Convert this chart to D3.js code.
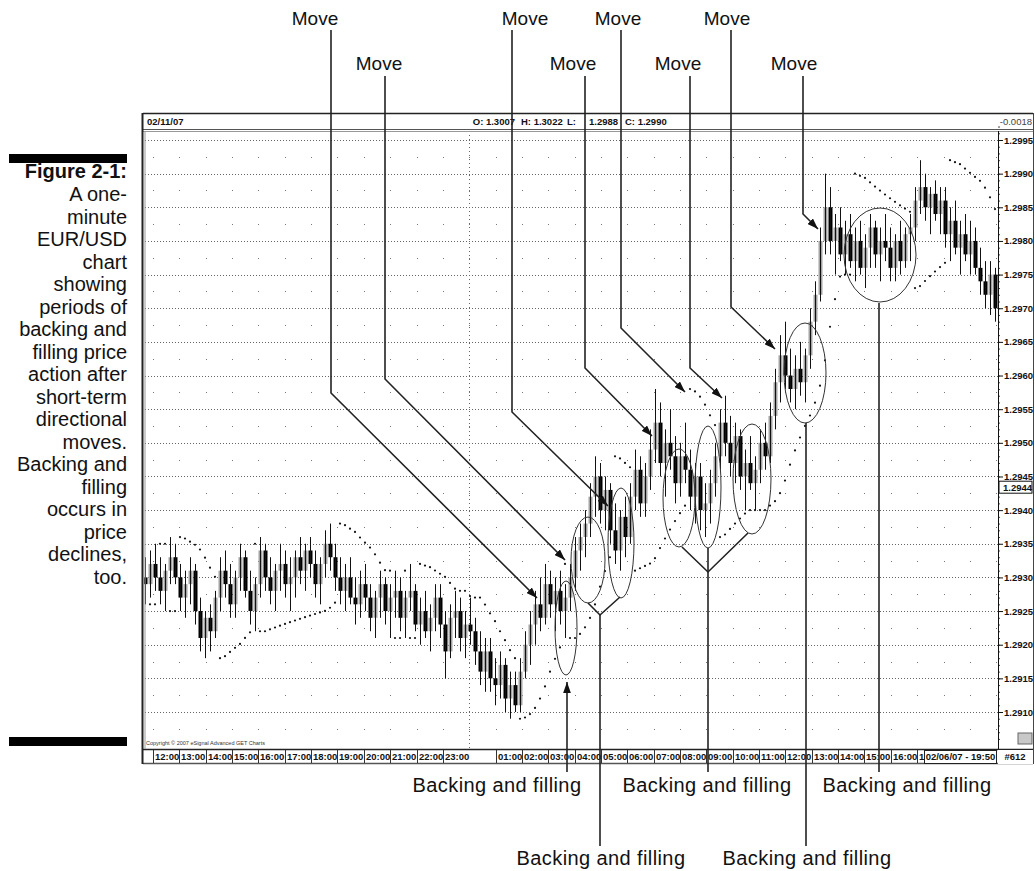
<!DOCTYPE html>
<html>
<head>
<meta charset="utf-8">
<script src="https://cdn.jsdelivr.net/npm/d3@7/dist/d3.min.js"></script>
<style>
html,body{margin:0;padding:0;background:#fff;}
svg{display:block;}
</style>
</head>
<body>
<svg id="chart" width="1035" height="871"></svg>
<script>
// ---------------- DATA ----------------
const barOpen = [
1.2930,1.2929,1.2932,1.2930,1.2928,1.2931,1.2933,1.2930,1.2927,1.2929,
1.2931,1.2925,1.2921,1.2924,1.2922,1.2927,1.2931,1.2929,1.2926,1.2930,
1.2933,1.2928,1.2925,1.2929,1.2934,1.2930,1.2928,1.2931,1.2932,1.2929,
1.2930,1.2933,1.2931,1.2934,1.2932,1.2929,1.2932,1.2935,1.2933,1.2930,
1.2928,1.2930,1.2927,1.2926,1.2929,1.2927,1.2924,1.2927,1.2929,1.2925,
1.2927,1.2928,1.2924,1.2927,1.2928,1.2923,1.2925,1.2922,1.2924,1.2927,
1.2923,1.2919,1.2924,1.2925,1.2921,1.2923,1.2922,1.2919,1.2916,1.2919,
1.2915,1.2914,1.2917,1.2912,1.2914,1.2911,1.2916,1.2920,1.2923,1.2926,
1.2924,1.2929,1.2926,1.2928,1.2925,1.2927,1.2930,1.2934,1.2936,1.2938,
1.2942,1.2945,1.2940,1.2943,1.2937,1.2934,1.2939,1.2936,1.2942,1.2946,
1.2941,1.2945,1.2949,1.2953,1.2947,1.2950,1.2948,1.2944,1.2948,1.2946,
1.2942,1.2945,1.2940,1.2941,1.2944,1.2948,1.2953,1.2950,1.2947,1.2951,
1.2945,1.2947,1.2944,1.2946,1.2950,1.2948,1.2954,1.2959,1.2963,1.2960,
1.2958,1.2961,1.2959,1.2963,1.2968,1.2972,1.2980,1.2985,1.2980,1.2982,
1.2978,1.2981,1.2977,1.2980,1.2976,1.2979,1.2982,1.2978,1.2980,1.2979,
1.2976,1.2980,1.2977,1.2981,1.2982,1.2986,1.2988,1.2985,1.2987,1.2984,
1.2986,1.2981,1.2983,1.2979,1.2981,1.2978,1.2980,1.2976,1.2974,1.2972,
1.2975];
const barHigh = [
1.2933,1.2934,1.2935,1.2933,1.2932,1.2936,1.2935,1.2932,1.2931,1.2933,
1.2932,1.2927,1.2925,1.2926,1.2928,1.2933,1.2934,1.2932,1.2931,1.2935,
1.2934,1.2931,1.2930,1.2936,1.2935,1.2933,1.2932,1.2935,1.2934,1.2933,
1.2934,1.2936,1.2935,1.2936,1.2934,1.2933,1.2937,1.2938,1.2935,1.2933,
1.2932,1.2933,1.2930,1.2931,1.2932,1.2929,1.2928,1.2931,1.2930,1.2929,
1.2931,1.2930,1.2928,1.2932,1.2929,1.2927,1.2928,1.2926,1.2929,1.2929,
1.2925,1.2926,1.2928,1.2927,1.2925,1.2927,1.2924,1.2922,1.2921,1.2921,
1.2918,1.2919,1.2918,1.2916,1.2916,1.2918,1.2922,1.2925,1.2928,1.2930,
1.2932,1.2931,1.2930,1.2931,1.2929,1.2932,1.2936,1.2938,1.2940,1.2944,
1.2948,1.2947,1.2945,1.2944,1.2941,1.2940,1.2942,1.2944,1.2949,1.2948,
1.2947,1.2952,1.2958,1.2956,1.2952,1.2955,1.2951,1.2950,1.2953,1.2949,
1.2947,1.2947,1.2944,1.2946,1.2950,1.2955,1.2957,1.2954,1.2953,1.2952,
1.2949,1.2951,1.2948,1.2952,1.2953,1.2956,1.2961,1.2966,1.2968,1.2964,
1.2963,1.2965,1.2964,1.2970,1.2974,1.2982,1.2990,1.2988,1.2984,1.2985,
1.2983,1.2984,1.2982,1.2983,1.2981,1.2984,1.2983,1.2982,1.2984,1.2982,
1.2981,1.2983,1.2982,1.2984,1.2988,1.2992,1.2990,1.2988,1.2989,1.2988,
1.2988,1.2985,1.2986,1.2983,1.2984,1.2983,1.2982,1.2979,1.2977,1.2977,
1.2976];
const barLow = [
1.2926,1.2927,1.2928,1.2926,1.2925,1.2929,1.2929,1.2925,1.2924,1.2926,
1.2923,1.2919,1.2918,1.2919,1.2921,1.2925,1.2927,1.2924,1.2924,1.2928,
1.2927,1.2923,1.2922,1.2927,1.2928,1.2926,1.2925,1.2928,1.2927,1.2925,
1.2927,1.2929,1.2928,1.2930,1.2927,1.2926,1.2930,1.2931,1.2928,1.2926,
1.2925,1.2926,1.2923,1.2924,1.2925,1.2922,1.2921,1.2924,1.2923,1.2921,
1.2924,1.2922,1.2921,1.2925,1.2922,1.2920,1.2921,1.2919,1.2922,1.2921,
1.2915,1.2918,1.2921,1.2919,1.2918,1.2920,1.2917,1.2914,1.2913,1.2913,
1.2911,1.2912,1.2910,1.2909,1.2910,1.2910,1.2915,1.2917,1.2920,1.2922,
1.2923,1.2924,1.2922,1.2923,1.2921,1.2925,1.2928,1.2931,1.2933,1.2936,
1.2939,1.2938,1.2937,1.2935,1.2932,1.2931,1.2933,1.2935,1.2940,1.2939,
1.2939,1.2943,1.2947,1.2945,1.2942,1.2946,1.2941,1.2942,1.2944,1.2940,
1.2938,1.2937,1.2936,1.2938,1.2942,1.2946,1.2948,1.2945,1.2944,1.2943,
1.2940,1.2943,1.2940,1.2944,1.2946,1.2947,1.2952,1.2956,1.2958,1.2956,
1.2955,1.2957,1.2956,1.2961,1.2966,1.2971,1.2978,1.2978,1.2975,1.2977,
1.2975,1.2976,1.2974,1.2975,1.2973,1.2976,1.2976,1.2974,1.2977,1.2974,
1.2974,1.2975,1.2976,1.2977,1.2980,1.2984,1.2983,1.2981,1.2983,1.2981,
1.2979,1.2977,1.2978,1.2975,1.2977,1.2975,1.2975,1.2972,1.2970,1.2969,
1.2968];
const barClose = [
1.2929,1.2932,1.2930,1.2928,1.2931,1.2933,1.2930,1.2927,1.2929,1.2931,
1.2925,1.2921,1.2924,1.2922,1.2927,1.2931,1.2929,1.2926,1.2930,1.2933,
1.2928,1.2925,1.2929,1.2934,1.2930,1.2928,1.2931,1.2932,1.2929,1.2930,
1.2933,1.2931,1.2934,1.2932,1.2929,1.2932,1.2935,1.2933,1.2930,1.2928,
1.2930,1.2927,1.2926,1.2929,1.2927,1.2924,1.2927,1.2929,1.2925,1.2927,
1.2928,1.2924,1.2927,1.2928,1.2923,1.2925,1.2922,1.2924,1.2927,1.2923,
1.2919,1.2924,1.2925,1.2921,1.2923,1.2922,1.2919,1.2916,1.2919,1.2915,
1.2914,1.2917,1.2912,1.2914,1.2911,1.2916,1.2920,1.2923,1.2926,1.2924,
1.2929,1.2926,1.2928,1.2925,1.2927,1.2930,1.2934,1.2936,1.2938,1.2942,
1.2945,1.2940,1.2943,1.2937,1.2934,1.2939,1.2936,1.2942,1.2946,1.2941,
1.2945,1.2949,1.2953,1.2947,1.2950,1.2948,1.2944,1.2948,1.2946,1.2942,
1.2945,1.2940,1.2941,1.2944,1.2948,1.2953,1.2950,1.2947,1.2951,1.2945,
1.2947,1.2944,1.2946,1.2950,1.2948,1.2954,1.2959,1.2963,1.2960,1.2958,
1.2961,1.2959,1.2963,1.2968,1.2972,1.2980,1.2985,1.2980,1.2982,1.2978,
1.2981,1.2977,1.2980,1.2976,1.2979,1.2982,1.2978,1.2980,1.2979,1.2976,
1.2980,1.2977,1.2981,1.2982,1.2986,1.2988,1.2985,1.2987,1.2984,1.2986,
1.2981,1.2983,1.2979,1.2981,1.2978,1.2980,1.2976,1.2974,1.2972,1.2975,
1.2970];

const priceTicks = [1.2910,1.2915,1.2920,1.2925,1.2930,1.2935,1.2940,1.2945,
                    1.2950,1.2955,1.2960,1.2965,1.2970,1.2975,1.2980,1.2985,1.2990,1.2995];
const lastPriceLabel = 1.2944;
const headerTexts = ["02/11/07","O: 1.3007","H: 1.3022","L:","1.2988","C: 1.2990","-0.0018"];
const dateBoxText = "02/06/07 - 19:50";
const barCountText = "#612";
const copyrightText = "Copyright \u00A9 2007 eSignal Advanced GET Charts";
const captionTitle = "Figure 2-1:";
const captionLines = ["A one-","minute","EUR/USD","chart","showing","periods of","backing and",
  "filling price","action after","short-term","directional","moves.","Backing and","filling",
  "occurs in","price","declines,","too."];
const moveLabel = "Move";
const bfLabel = "Backing and filling";

// ---------------- LAYOUT ----------------
const FONT = "'Liberation Sans', Arial, sans-serif";
const NARROW = "'Liberation Sans Narrow', 'Arial Narrow', 'Liberation Sans', sans-serif";
const P = {left:143, right:998, top:131, bottom:749, frameRight:1033, headTop:113, axisBottom:764, dateBoxLeft:924.5};

const svg = d3.select("#chart");
const N = barClose.length;
const bars = d3.range(N).map(i => ({i, o:barOpen[i], h:barHigh[i], l:barLow[i], c:barClose[i]}));

const y = d3.scaleLinear().domain([1.2910, 1.2995]).range([712, 140]);
const x = d3.scaleLinear().domain([0, N - 1]).range([145, 995]);
const xt = d3.scaleTime().domain([new Date(2007,1,5,12), new Date(2007,1,6,12)]).range([153, 785.4]);

// frame background
svg.append("rect").attr("x", P.left).attr("y", P.headTop)
  .attr("width", P.frameRight - P.left).attr("height", P.axisBottom - P.headTop)
  .attr("fill", "#fff");

// clip
svg.append("defs").append("clipPath").attr("id","plotclip").append("rect")
  .attr("x", P.left + 1).attr("y", P.top).attr("width", P.right - P.left - 1).attr("height", P.bottom - P.top);

// ---- grid ----
const grid = svg.append("g");
grid.selectAll("line.h").data(priceTicks).join("line")
  .attr("x1", P.left + 2).attr("x2", P.right)
  .attr("y1", d => Math.round(y(d)) + 0.5).attr("y2", d => Math.round(y(d)) + 0.5)
  .attr("stroke", "#666").attr("stroke-width", 1).attr("stroke-dasharray", "1,2");

const hourTimes = d3.timeHour.range(xt.invert(P.left), xt.invert(P.right));
const halfLevels = priceTicks.map(p => p + 0.00025).concat([1.29075]).filter(p => y(p) > P.top && y(p) < P.bottom);
const dotData = [];
hourTimes.forEach(t => halfLevels.forEach(p => dotData.push({t, p})));
grid.selectAll("rect.dot").data(dotData).join("rect")
  .attr("x", d => Math.round(xt(d.t))).attr("y", d => Math.round(y(d.p)))
  .attr("width", 1).attr("height", 1).attr("fill", "#777");

// day separator
const midnight = new Date(2007,1,6,0);
grid.append("line")
  .attr("x1", Math.round(xt(midnight)) + 0.5).attr("x2", Math.round(xt(midnight)) + 0.5)
  .attr("y1", P.top).attr("y2", P.bottom)
  .attr("stroke", "#666").attr("stroke-dasharray", "1,3");

// ---- candles ----
const gBars = svg.append("g").attr("clip-path", "url(#plotclip)");
gBars.selectAll("rect.body").data(bars).join("rect")
  .attr("x", d => Math.round(x(d.i)) - 1.5)
  .attr("y", d => Math.min(y(d.o), y(d.c)))
  .attr("width", 4)
  .attr("height", d => Math.max(1.5, Math.abs(y(d.o) - y(d.c))))
  .attr("fill", d => d.c < d.o ? "#000" : "#a3a3a3");
gBars.selectAll("line.wick").data(bars).join("line")
  .attr("x1", d => Math.round(x(d.i)) + 0.5).attr("x2", d => Math.round(x(d.i)) + 0.5)
  .attr("y1", d => y(d.h)).attr("y2", d => y(d.l))
  .attr("stroke", "#111").attr("stroke-width", 1);

// ---- parabolic SAR (indicator computed from the bars) ----
function parabolicSAR(h, l, step = 0.02, maxAf = 0.2) {
  const out = new Array(h.length);
  let up = true, af = step, ep = h[0], sar = l[0];
  out[0] = sar;
  for (let i = 1; i < h.length; i++) {
    sar = sar + af * (ep - sar);
    if (up) {
      sar = Math.min(sar, l[i - 1], l[Math.max(0, i - 2)]);
      if (l[i] < sar) { up = false; sar = ep; ep = l[i]; af = step; }
      else if (h[i] > ep) { ep = h[i]; af = Math.min(af + step, maxAf); }
    } else {
      sar = Math.max(sar, h[i - 1], h[Math.max(0, i - 2)]);
      if (h[i] > sar) { up = true; sar = ep; ep = h[i]; af = step; }
      else if (l[i] < ep) { ep = l[i]; af = Math.min(af + step, maxAf); }
    }
    out[i] = sar;
  }
  return out;
}
const sar = parabolicSAR(barHigh, barLow);
gBars.selectAll("circle.sar").data(bars.slice(1)).join("circle")
  .attr("cx", d => x(d.i)).attr("cy", d => y(sar[d.i])).attr("r", 1.1).attr("fill", "#111");

// ---- header bar ----
const head = svg.append("g").attr("font-family", FONT).attr("font-weight", "bold").attr("font-size", 9.5).attr("fill", "#111");
head.append("line").attr("x1", P.left).attr("x2", P.frameRight).attr("y1", P.headTop + 0.5).attr("y2", P.headTop + 0.5).attr("stroke", "#222").attr("stroke-width", 1.5);
head.append("line").attr("x1", P.left).attr("x2", P.frameRight).attr("y1", 129.5).attr("y2", 129.5).attr("stroke", "#555");
head.append("line").attr("x1", P.left).attr("x2", P.frameRight).attr("y1", 131.5).attr("y2", 131.5).attr("stroke", "#999");
const headPos = [[147,"start"],[515,"end"],[521,"start"],[567,"start"],[589,"start"],[625,"start"],[1032,"end"]];
headerTexts.forEach((t, k) => {
  head.append("text").attr("x", headPos[k][0]).attr("y", 125).attr("text-anchor", headPos[k][1])
    .attr("font-weight", k === 6 ? "normal" : "bold").attr("fill", k === 6 ? "#444" : "#111").text(t);
});

// ---- right price axis ----
const gAx = svg.append("g").attr("transform", `translate(${P.right},0)`);
const minorTicks = d3.range(1.2906, 1.29971, 0.0001);
gAx.call(d3.axisRight(y).tickValues(minorTicks).tickSize(2).tickFormat(""))
  .call(g => g.select(".domain").remove());
gAx.selectAll(".tick line").attr("stroke", "#444");
const gAx2 = svg.append("g").attr("transform", `translate(${P.right},0)`);
gAx2.call(d3.axisRight(y).tickValues(priceTicks).tickSize(5).tickPadding(1).tickFormat(d3.format(".4f")))
  .call(g => g.select(".domain").remove());
gAx2.selectAll(".tick text").attr("font-family", FONT).attr("font-weight", "bold").attr("font-size", 9.5).attr("fill", "#111");
gAx2.selectAll(".tick line").attr("stroke", "#111");
svg.append("line").attr("x1", P.right + 0.5).attr("x2", P.right + 0.5).attr("y1", P.top).attr("y2", P.bottom).attr("stroke", "#111");
// last price marker
const lpY = y(lastPriceLabel) + 4;
svg.append("rect").attr("x", P.right + 1).attr("y", lpY - 6).attr("width", 33).attr("height", 12).attr("fill", "#fff").attr("stroke", "#111");
svg.append("text").attr("x", P.right + 5).attr("y", lpY + 4).attr("font-family", FONT).attr("font-weight", "bold")
  .attr("font-size", 9.5).attr("fill", "#111").text(d3.format(".4f")(lastPriceLabel));

// copyright + corner icon
svg.append("text").attr("x", 146).attr("y", 745).attr("font-family", FONT).attr("font-size", 5.5).attr("fill", "#333").text(copyrightText);
svg.append("rect").attr("x", 1018).attr("y", 733).attr("width", 14).attr("height", 11).attr("fill", "#c8c8c8").attr("stroke", "#666");

// ---- bottom time axis ----
const gT = svg.append("g").attr("font-family", FONT).attr("font-weight", "bold").attr("font-size", 9.5).attr("fill", "#111");
gT.append("line").attr("x1", P.left).attr("x2", P.frameRight).attr("y1", P.bottom + 0.5).attr("y2", P.bottom + 0.5).attr("stroke", "#222").attr("stroke-width", 1.5);
gT.append("line").attr("x1", P.left).attr("x2", P.frameRight).attr("y1", P.axisBottom - 0.5).attr("y2", P.axisBottom - 0.5).attr("stroke", "#555").attr("stroke-width", 1.5);
const hourTicks = d3.timeHour.range(new Date(2007,1,5,12), new Date(2007,1,6,18)).filter(t => t.getHours() !== 0);
const fmt = d3.timeFormat("%H:%M");
hourTicks.forEach(t => {
  const xx = Math.round(xt(t)) + 0.5;
  const room = P.dateBoxLeft - xx;
  gT.append("line").attr("x1", xx).attr("x2", xx).attr("y1", P.bottom + 1).attr("y2", P.axisBottom - 1).attr("stroke", "#333");
  // the label is cut off where the date box begins (only "1" of 17:00 shows)
  const label = room < 24 ? fmt(t).slice(0, 1) : fmt(t);
  gT.append("text").attr("x", xx + 1.5).attr("y", 760).text(label);
});
gT.append("rect").attr("x", P.dateBoxLeft).attr("y", P.bottom + 1.5).attr("width", 72).attr("height", 13).attr("fill", "#fff").attr("stroke", "#222");
gT.append("text").attr("x", 960.5).attr("y", 760).attr("text-anchor", "middle").text(dateBoxText);
gT.append("rect").attr("x", 998).attr("y", P.bottom + 1).attr("width", 35).attr("height", 14).attr("fill", "#fff");
gT.append("text").attr("x", 1015).attr("y", 760).attr("text-anchor", "middle").text(barCountText);

// outer frame lines
svg.append("line").attr("x1", 142.5).attr("x2", 142.5).attr("y1", P.headTop).attr("y2", P.axisBottom).attr("stroke", "#222").attr("stroke-width", 2);
svg.append("line").attr("x1", 145).attr("x2", 145).attr("y1", P.top).attr("y2", P.bottom).attr("stroke", "#999").attr("stroke-width", 1);
svg.append("line").attr("x1", 1033.5).attr("x2", 1033.5).attr("y1", P.headTop).attr("y2", P.axisBottom).attr("stroke", "#444");

// ---- annotations ----
const defs = svg.select("defs");
defs.append("marker").attr("id", "arrow").attr("viewBox", "0 0 10 7").attr("refX", 10).attr("refY", 3.5)
  .attr("markerWidth", 11).attr("markerHeight", 7.7).attr("markerUnits", "userSpaceOnUse").attr("orient", "auto")
  .append("path").attr("d", "M0,0 L10,3.5 L0,7 z").attr("fill", "#111");

const ann = svg.append("g");
const ellipses = [
  {cx:566, cy:628, rx:11, ry:47}, {cx:588, cy:560, rx:17, ry:43}, {cx:621, cy:543, rx:13, ry:55},
  {cx:679, cy:498, rx:16, ry:49}, {cx:708, cy:487, rx:13, ry:61}, {cx:752, cy:479, rx:19, ry:55},
  {cx:805, cy:373, rx:21, ry:50}, {cx:880, cy:255, rx:36, ry:47}];
ann.selectAll("ellipse").data(ellipses).join("ellipse")
  .attr("cx", d => d.cx).attr("cy", d => d.cy).attr("rx", d => d.rx).attr("ry", d => d.ry)
  .attr("fill", "none").attr("stroke", "#333").attr("stroke-width", 1);

const moveLeaders = [
  [[331,30],[331,393],[537,598]], [[385,76],[385,379],[565,560]],
  [[512,30],[512,412],[608,506]], [[585,76],[585,368],[652,436]],
  [[621,30],[621,328],[685,392]], [[690,76],[690,368],[722,398]],
  [[731,30],[731,307],[775,349]], [[803,76],[803,214],[818,229]]];
const line = d3.line();
ann.selectAll("path.move").data(moveLeaders).join("path")
  .attr("d", line).attr("fill", "none").attr("stroke", "#222").attr("stroke-width", 1.6)
  .attr("marker-end", "url(#arrow)");

const bfLeaders = [
  {pts:[[567,772],[567,682]], arrow:true},
  {pts:[[588,603],[600,615],[620,597]], arrow:false},
  {pts:[[600,615],[600,846]], arrow:false},
  {pts:[[682,547],[708,572],[748,533]], arrow:false},
  {pts:[[708,548],[708,772]], arrow:false},
  {pts:[[806,423],[806,846]], arrow:false},
  {pts:[[879,303],[879,772]], arrow:false}];
ann.selectAll("path.bf").data(bfLeaders).join("path")
  .attr("d", d => line(d.pts)).attr("fill", "none").attr("stroke", "#222").attr("stroke-width", 1.6)
  .attr("marker-end", d => d.arrow ? "url(#arrow)" : null);

const moveLabelPos = [[315,25],[525,25],[618,25],[727,25],[379,70],[573,70],[678,70],[794,70]];
ann.selectAll("text.move").data(moveLabelPos).join("text")
  .attr("x", d => d[0]).attr("y", d => d[1]).attr("text-anchor", "middle")
  .attr("font-family", FONT).attr("font-size", 19).attr("fill", "#111").text(moveLabel);
const bfLabelPos = [[497,792],[707,792],[907,792],[601,865],[807,865]];
ann.selectAll("text.bf").data(bfLabelPos).join("text")
  .attr("x", d => d[0]).attr("y", d => d[1]).attr("text-anchor", "middle")
  .attr("font-family", FONT).attr("font-size", 20).attr("letter-spacing", 0.4).attr("fill", "#111").text(bfLabel);

// ---- caption ----
const cap = svg.append("g").attr("font-family", NARROW).attr("fill", "#111").attr("text-anchor", "end");
svg.append("rect").attr("x", 9).attr("y", 154).attr("width", 118).attr("height", 9).attr("fill", "#000");
svg.append("rect").attr("x", 9).attr("y", 737).attr("width", 118).attr("height", 9).attr("fill", "#000");
cap.append("text").attr("x", 127).attr("y", 178).attr("font-size", 20).attr("font-weight", "bold").text(captionTitle);
cap.selectAll("text.cl").data(captionLines).join("text")
  .attr("x", 127).attr("y", (d, k) => 201 + k * 22.5).attr("font-size", 20).text(d => d);
</script>
</body>
</html>
